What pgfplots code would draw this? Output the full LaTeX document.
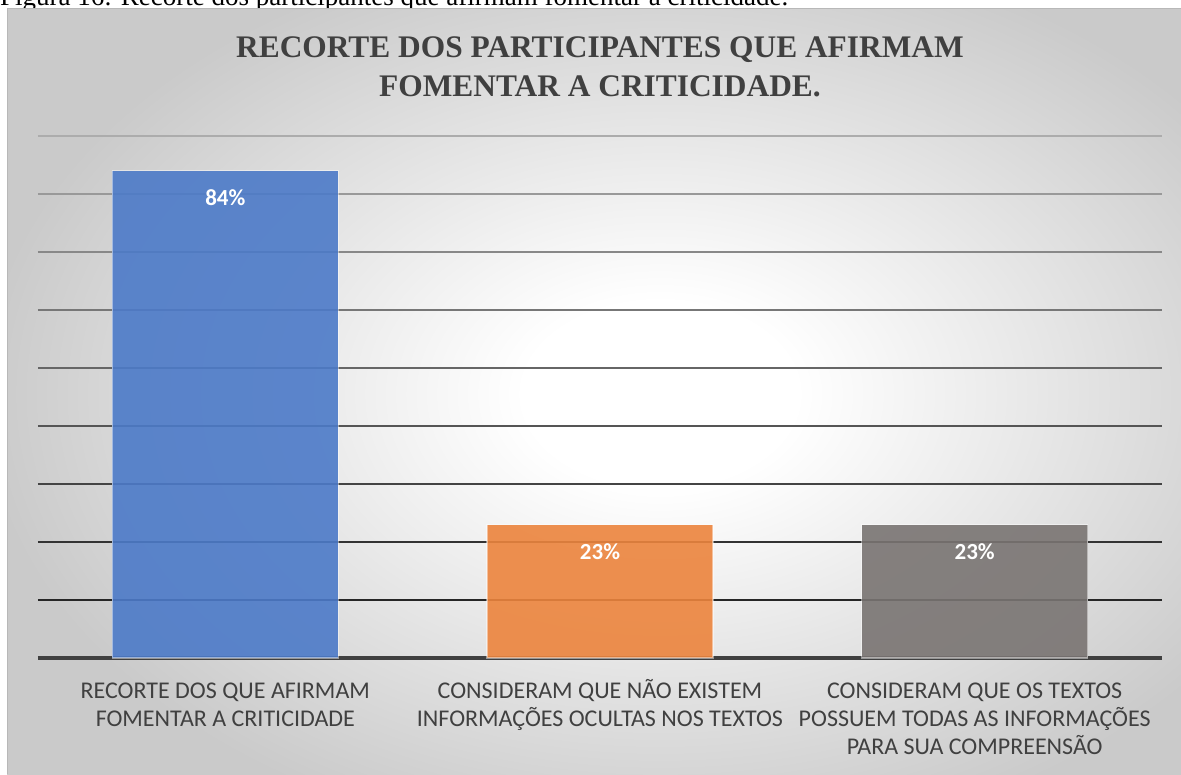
\documentclass[border=0pt]{standalone}
\usepackage{pgfplots}
\pgfplotsset{compat=1.18}
\usepackage{fontspec}
\setmainfont{Liberation Serif}
\newfontfamily\carlito{Carlito}
\newfontfamily\libserif{Liberation Serif}[BoldFont={Liberation Serif Bold}]
\definecolor{bggray}{RGB}{202,202,202}
\definecolor{txtgray}{RGB}{64,64,64}
\definecolor{barblue}{RGB}{76,122,200}
\definecolor{barorange}{RGB}{236,132,61}
\definecolor{bargray}{RGB}{121,116,114}
\definecolor{g10}{RGB}{38,38,38}
\definecolor{g20}{RGB}{51,51,51}
\definecolor{g30}{RGB}{68,68,68}
\definecolor{g40}{RGB}{85,85,85}
\definecolor{g50}{RGB}{102,102,102}
\definecolor{g60}{RGB}{119,119,119}
\definecolor{g70}{RGB}{136,136,136}
\definecolor{g80}{RGB}{153,153,153}
\definecolor{g90}{RGB}{172,172,172}
\pgfdeclareradialshading{chartbg}{\pgfpoint{0bp}{0bp}}{color(0bp)=(white); color(5bp)=(white); color(25bp)=(bggray); color(50bp)=(bggray)}
\begin{document}
\begin{tikzpicture}
\begin{scope}[x=1pt,y=1pt]
\useasboundingbox (0,0) rectangle (1181,774);
\clip (0,0) rectangle (1181,774);
\fill[white] (0,0) rectangle (1181,774);
\node[anchor=base west, inner sep=0pt, font=\libserif\fontsize{27}{32}\selectfont] at (0,768) {Figura 16: Recorte dos participantes que afirmam fomentar a criticidade.};
\begin{scope}
\clip (7,0) rectangle (1181,765);
\shade[shading=chartbg] (-20,-80) rectangle (1340,840);
\end{scope}
\draw[color=black!28, line width=1pt] (7.5,0) -- (7.5,765.5) -- (1181,765.5);
\node[align=center, text=txtgray, font=\libserif\bfseries\fontsize{31.4}{39}\selectfont] at (600,707.5) {RECORTE DOS PARTICIPANTES QUE AFIRMAM\\FOMENTAR A CRITICIDADE.};
\end{scope}
\begin{axis}[
  at={(38pt,116pt)}, anchor=south west,
  scale only axis, width=1124pt, height=522pt,
  xmin=-0.5, xmax=2.5, ymin=0, ymax=90,
  ybar, bar width=226pt,
  axis x line=bottom, axis y line=none,
  x axis line style={-, line width=3.5pt, draw=txtgray},
  every outer x axis line/.append style={-},
  xtick={0,1,2}, ytick=\empty,
  major tick length=0pt,
  xticklabels={{RECORTE DOS QUE AFIRMAM\\FOMENTAR A CRITICIDADE},{CONSIDERAM QUE NÃO EXISTEM\\INFORMAÇÕES OCULTAS NOS TEXTOS},{CONSIDERAM QUE OS TEXTOS\\POSSUEM TODAS AS INFORMAÇÕES\\PARA SUA COMPREENSÃO}},
  typeset ticklabels with strut,
  xticklabel style={align=center, anchor=north, yshift=-17pt, text=txtgray, font=\carlito\fontsize{24}{28}\selectfont},
  clip=false,
  nodes near coords={\pgfmathprintnumber[assume math mode=true]{\pgfplotspointmeta}\%},
  every node near coord/.append style={anchor=center, yshift=-27pt, text=white, text opacity=1, font=\carlito\bfseries\fontsize{23}{27}\selectfont},
]
\draw[line width=2pt, g10] (axis cs:-0.5,10) -- (axis cs:2.5,10);
\draw[line width=2pt, g20] (axis cs:-0.5,20) -- (axis cs:2.5,20);
\draw[line width=2pt, g30] (axis cs:-0.5,30) -- (axis cs:2.5,30);
\draw[line width=2pt, g40] (axis cs:-0.5,40) -- (axis cs:2.5,40);
\draw[line width=2pt, g50] (axis cs:-0.5,50) -- (axis cs:2.5,50);
\draw[line width=2pt, g60] (axis cs:-0.5,60) -- (axis cs:2.5,60);
\draw[line width=2pt, g70] (axis cs:-0.5,70) -- (axis cs:2.5,70);
\draw[line width=2pt, g80] (axis cs:-0.5,80) -- (axis cs:2.5,80);
\draw[line width=2pt, g90] (axis cs:-0.5,90) -- (axis cs:2.5,90);
\addplot[bar shift=0pt, fill=barblue, fill opacity=0.9, draw=white, draw opacity=0.45, line width=1.2pt] coordinates {(0,84)};
\addplot[bar shift=0pt, fill=barorange, fill opacity=0.9, draw=white, draw opacity=0.45, line width=1.2pt] coordinates {(1,23)};
\addplot[bar shift=0pt, fill=bargray, fill opacity=0.9, draw=white, draw opacity=0.45, line width=1.2pt] coordinates {(2,23)};
\end{axis}
\end{tikzpicture}
\end{document}
